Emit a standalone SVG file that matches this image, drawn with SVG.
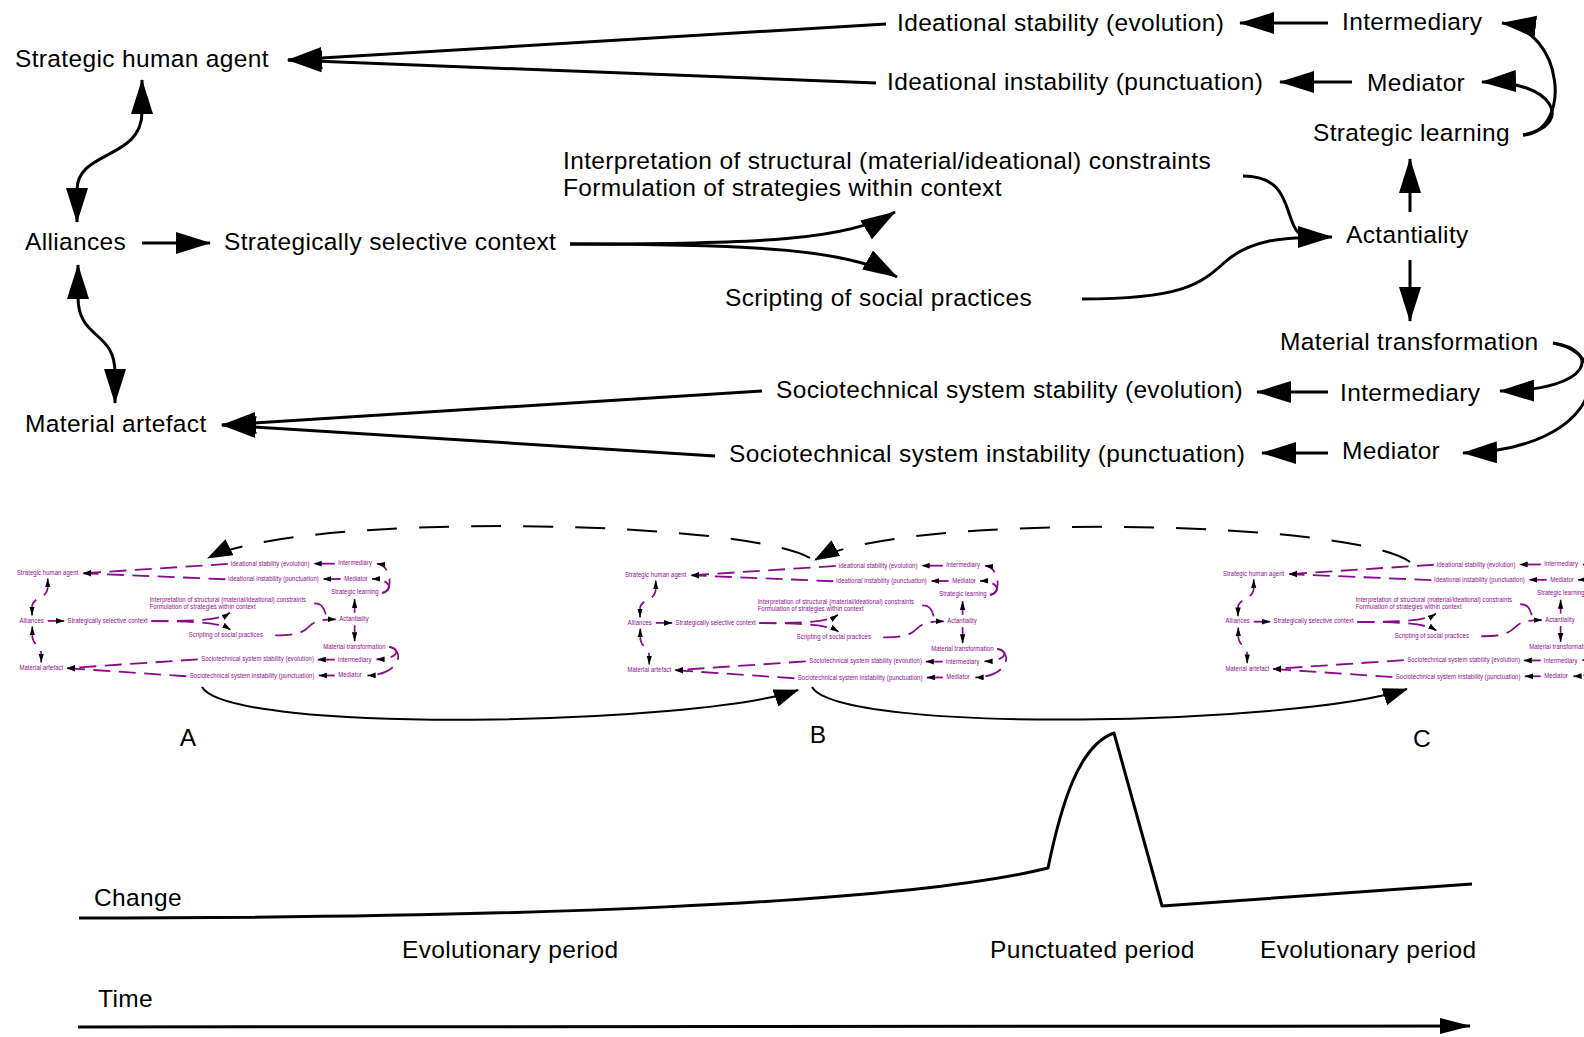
<svg xmlns="http://www.w3.org/2000/svg" xmlns:xlink="http://www.w3.org/1999/xlink" width="1584" height="1037" viewBox="0 0 1584 1037">
<style>
.t{font-family:"Liberation Sans",Arial,sans-serif;font-size:24.5px;letter-spacing:0.35px;stroke:none}
.c path{fill:none}
.e{marker-end:url(#ah)}
.b{marker-start:url(#ah);marker-end:url(#ah)}
.arc{fill:none;stroke:#000;stroke-width:2}
.dash{stroke-dasharray:30 22}
.curve{fill:none;stroke:#000;stroke-width:3;stroke-linejoin:round}
</style>
<defs>
<marker id="ah" markerUnits="userSpaceOnUse" markerWidth="36" markerHeight="24" viewBox="0 0 36 24" refX="34" refY="12" orient="auto-start-reverse"><path d="M0,1 L35,12 L0,23 z" fill="#000" stroke="none"/></marker>
<marker id="as" markerUnits="userSpaceOnUse" markerWidth="26" markerHeight="18" viewBox="0 0 26 18" refX="24" refY="9" orient="auto"><path d="M0,0 L25,9 L0,18 z" fill="#000" stroke="none"/></marker>
<marker id="at" markerUnits="userSpaceOnUse" markerWidth="32" markerHeight="18" viewBox="0 0 32 18" refX="30" refY="9" orient="auto"><path d="M0,1 L31,9 L0,17 z" fill="#000" stroke="none"/></marker>
</defs>
<rect width="1584" height="1037" fill="#fff"/>

<g fill="#000" stroke="#000" stroke-width="3" stroke-dasharray="none">
<g id="main-diagram">
 <g id="connectors" class="c">
  <path class="e" d="M886,24 L288,60"/>
  <path class="e" d="M876,83 L288,60"/>
  <path class="e" d="M1328,23 L1240,23"/>
  <path class="e" d="M1352,82 L1280,82"/>
  <path class="e" d="M1523,135 C1572,132 1565,30 1502,23"/>
  <path class="e" d="M1523,135 C1575,125 1555,80 1482,82"/>
  <path class="e" d="M1410,212 L1410,159"/>
  <path class="e" d="M1410,260 L1410,321"/>
  <path class="e" d="M1553,343 C1600,350 1595,390 1500,391"/>
  <path class="e" d="M1553,343 C1620,355 1600,450 1463,453"/>
  <path class="e" d="M1328,392 L1257,392"/>
  <path class="e" d="M1328,453 L1262,453"/>
  <path class="e" d="M762,391 L222,425"/>
  <path class="e" d="M715,456 L222,425"/>
  <path class="e" d="M142,243 L210,243"/>
  <path class="b" d="M142,80 L142,112 C142,160 77,150 77,190 L77,222"/>
  <path class="b" d="M78,265 L78,297 C78,340 115,330 115,373 L115,403"/>
  <path class="e" d="M570,244 C760,244 850,240 895,212"/>
  <path class="e" d="M570,244 C760,244 850,250 897,277"/>
  <path d="M1243,176 C1295,176 1282,222 1302,236"/>
  <path class="e" d="M1082,299 C1180,299 1200,285 1225,262 C1250,240 1280,237 1332,237"/>
 </g>
 <g id="n-sha"><text class="t" x="15" y="67">Strategic human agent</text></g>
 <g id="n-ideational-stability"><text class="t" x="897" y="31">Ideational stability (evolution)</text></g>
 <g id="n-intermediary-1"><text class="t" x="1342" y="30">Intermediary</text></g>
 <g id="n-mediator-1"><text class="t" x="1367" y="91">Mediator</text></g>
 <g id="n-ideational-instability"><text class="t" x="887" y="90">Ideational instability (punctuation)</text></g>
 <g id="n-strategic-learning"><text class="t" x="1313" y="141">Strategic learning</text></g>
 <g id="n-interpretation"><text class="t" x="563" y="169">Interpretation of structural (material/ideational) constraints</text><text class="t" x="563" y="196">Formulation of strategies within context</text></g>
 <g id="n-alliances"><text class="t" x="25" y="250">Alliances</text></g>
 <g id="n-ssc"><text class="t" x="224" y="250">Strategically selective context</text></g>
 <g id="n-actantiality"><text class="t" x="1346" y="243">Actantiality</text></g>
 <g id="n-scripting"><text class="t" x="725" y="306">Scripting of social practices</text></g>
 <g id="n-material-transformation"><text class="t" x="1280" y="350">Material transformation</text></g>
 <g id="n-sts-stability"><text class="t" x="776" y="398">Sociotechnical system stability (evolution)</text></g>
 <g id="n-intermediary-2"><text class="t" x="1340" y="401">Intermediary</text></g>
 <g id="n-material-artefact"><text class="t" x="25" y="432">Material artefact</text></g>
 <g id="n-sts-instability"><text class="t" x="729" y="462">Sociotechnical system instability (punctuation)</text></g>
 <g id="n-mediator-2"><text class="t" x="1342" y="459">Mediator</text></g>
</g>
</g>

<g id="thumb-A"><use xlink:href="#main-diagram" href="#main-diagram" transform="translate(13.4,557.7) scale(0.242,0.26)" fill="#8a0a8a" stroke="#8a0a8a" stroke-width="7" stroke-dasharray="70 35"/></g>
<g id="thumb-B"><use xlink:href="#main-diagram" href="#main-diagram" transform="translate(621.4,559.7) scale(0.242,0.26)" fill="#8a0a8a" stroke="#8a0a8a" stroke-width="7" stroke-dasharray="70 35"/></g>
<g id="thumb-C"><use xlink:href="#main-diagram" href="#main-diagram" transform="translate(1219.4,558.5) scale(0.242,0.26)" fill="#8a0a8a" stroke="#8a0a8a" stroke-width="7" stroke-dasharray="70 35"/></g>

<g id="stage-connectors">
 <path class="arc dash" marker-end="url(#as)" d="M810,558 C740,519 300,512 208,558"/>
 <path class="arc dash" marker-end="url(#as)" d="M1410,562 C1350,519 900,512 815,560"/>
 <path class="arc" marker-end="url(#as)" d="M202,687 C230,735 700,725 798,690"/>
 <path class="arc" marker-end="url(#as)" d="M812,687 C840,735 1300,725 1407,689"/>
</g>
<g id="label-A"><text class="t" x="188" y="746" text-anchor="middle">A</text></g>
<g id="label-B"><text class="t" x="818" y="743" text-anchor="middle">B</text></g>
<g id="label-C"><text class="t" x="1422" y="747" text-anchor="middle">C</text></g>

<g id="change-graph">
 <path class="curve" d="M79,918 C500,918 900,905 1048,868 C1062,800 1080,745 1114,733 L1162,906 L1472,884"/>
 <text class="t" x="94" y="906">Change</text>
 <text class="t" x="402" y="958">Evolutionary period</text>
 <text class="t" x="990" y="958">Punctuated period</text>
 <text class="t" x="1260" y="958">Evolutionary period</text>
</g>
<g id="time-axis">
 <path class="curve" marker-end="url(#at)" d="M78,1027 L1470,1026"/>
 <text class="t" x="98" y="1007">Time</text>
</g>
</svg>
